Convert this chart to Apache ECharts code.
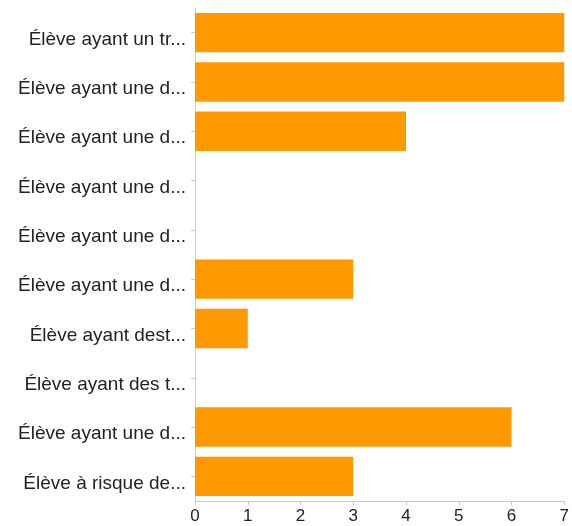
<!DOCTYPE html>
<html>
<head>
<meta charset="utf-8">
<script src="https://cdn.jsdelivr.net/npm/echarts@6/dist/echarts.min.js"></script>
<style>
  html, body { margin: 0; padding: 0; background: #fff; }
  #chart { width: 572px; height: 526px; }
</style>
</head>
<body>
<div id="chart"></div>
<script>
// categories listed top to bottom
var categories = [
  'Élève ayant un tr...',
  'Élève ayant une d...',
  'Élève ayant une d...',
  'Élève ayant une d...',
  'Élève ayant une d...',
  'Élève ayant une d...',
  'Élève ayant dest...',
  'Élève ayant des t...',
  'Élève ayant une d...',
  'Élève à risque de...'
];
var counts = [7, 7, 4, 0, 0, 3, 1, 0, 6, 3];
var xTicks = [0, 1, 2, 3, 4, 5, 6, 7];

var myChart = echarts.init(document.getElementById('chart'));
myChart.setOption({
  animation: false,
  grid: { left: 195, right: 4, top: 8, bottom: 25 },
  xAxis: {
    type: 'value',
    min: xTicks[0],
    max: xTicks[xTicks.length - 1],
    interval: 1,
    splitLine: { show: false },
    axisLine: { show: true, lineStyle: { color: '#c8c8c0' } },
    axisTick: { show: true, length: 4, lineStyle: { color: '#c8c8c0' } },
    axisLabel: { color: '#222', fontSize: 17, fontFamily: 'Liberation Sans', margin: 7 }
  },
  yAxis: {
    type: 'category',
    inverse: true,
    data: categories,
    axisLine: { show: true, lineStyle: { color: '#cccccc' } },
    axisTick: { show: true, alignWithLabel: true, length: 4, lineStyle: { color: '#cccccc' } },
    // labels sit a bit below the tick in the original
    axisLabel: { color: '#222', fontSize: 19, fontFamily: 'Liberation Sans', margin: 9, verticalAlign: 'top', lineHeight: 14 }
  },
  series: [{
    type: 'bar',
    data: counts,
    barCategoryGap: '20%',
    itemStyle: { color: '#ff9900' }
  }]
});
</script>
</body>
</html>
